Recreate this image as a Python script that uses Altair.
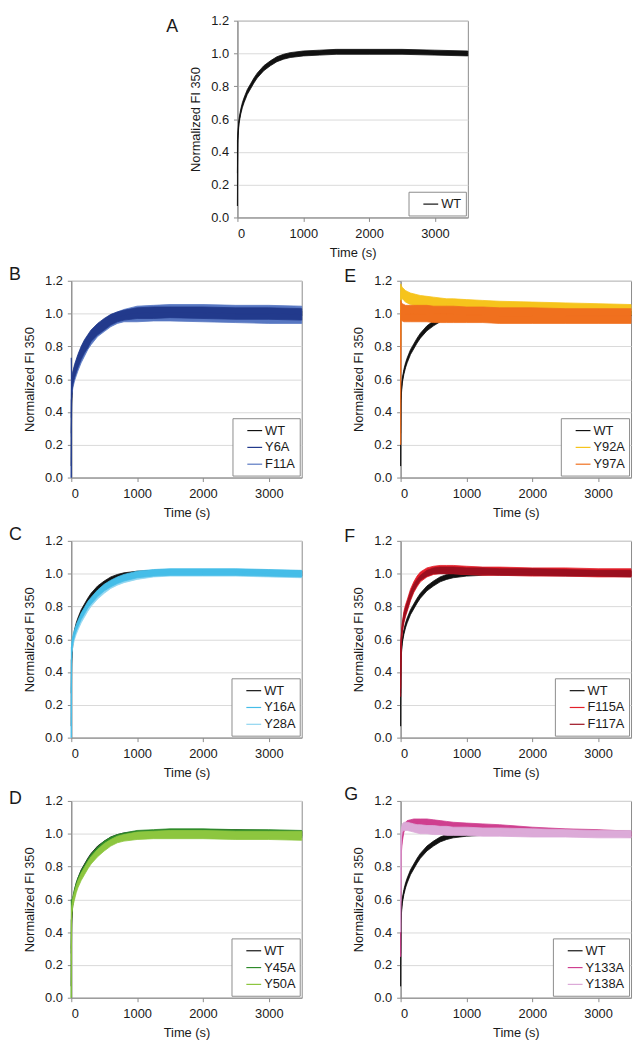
import altair as alt
import pandas as pd

FONT = "Liberation Sans"
TXT = "#1a1a1a"
FRAME = "#8c8c8c"

# time grid (s)
T = [0, 5, 10, 25, 50, 75, 100, 150, 200, 250, 300, 400, 500, 600, 700, 800,
     1000, 1250, 1500, 2000, 2500, 3000, 3500]

# WT (band low / high)
WT_lo = [0.07, 0.45, 0.50, 0.575, 0.63, 0.67, 0.70, 0.75, 0.785, 0.82, 0.85, 0.895, 0.925, 0.95, 0.965, 0.975,
         0.985, 0.99, 0.995, 0.995, 0.995, 0.99, 0.985]
WT_hi = [0.47, 0.49, 0.54, 0.605, 0.66, 0.70, 0.73, 0.78, 0.815, 0.85, 0.88, 0.925, 0.955, 0.98, 0.995, 1.005,
         1.015, 1.02, 1.025, 1.025, 1.025, 1.02, 1.015]

# B
Y6A_lo = [0.00, 0.50, 0.53, 0.57, 0.61, 0.64, 0.67, 0.72, 0.76, 0.79, 0.83, 0.87, 0.90, 0.93, 0.95, 0.96,
          0.97, 0.97, 0.975, 0.97, 0.965, 0.965, 0.96]
Y6A_hi = [0.73, 0.60, 0.62, 0.65, 0.69, 0.72, 0.75, 0.80, 0.84, 0.87, 0.90, 0.94, 0.97, 0.995, 1.01, 1.02,
          1.035, 1.04, 1.04, 1.04, 1.035, 1.035, 1.03]
F11A_lo = [0.00, 0.48, 0.51, 0.55, 0.59, 0.62, 0.65, 0.70, 0.74, 0.78, 0.81, 0.86, 0.89, 0.92, 0.94, 0.95,
           0.95, 0.955, 0.955, 0.95, 0.945, 0.94, 0.94]
F11A_hi = [0.50, 0.58, 0.61, 0.64, 0.68, 0.71, 0.74, 0.79, 0.83, 0.86, 0.89, 0.93, 0.965, 0.99, 1.01, 1.025,
           1.045, 1.05, 1.055, 1.055, 1.05, 1.05, 1.045]

# C
Y16A_lo = [0.00, 0.50, 0.54, 0.58, 0.62, 0.65, 0.675, 0.72, 0.755, 0.79, 0.815, 0.86, 0.895, 0.92, 0.94, 0.955,
           0.975, 0.985, 0.99, 0.99, 0.99, 0.985, 0.98]
Y16A_hi = [0.55, 0.56, 0.59, 0.625, 0.66, 0.69, 0.715, 0.76, 0.795, 0.83, 0.855, 0.90, 0.935, 0.96, 0.98, 0.995,
           1.015, 1.025, 1.03, 1.03, 1.03, 1.025, 1.02]
Y28A_lo = [0.00, 0.48, 0.52, 0.56, 0.60, 0.63, 0.655, 0.70, 0.735, 0.77, 0.80, 0.845, 0.88, 0.91, 0.93, 0.945,
           0.965, 0.98, 0.985, 0.985, 0.985, 0.98, 0.975]
Y28A_hi = [0.30, 0.55, 0.58, 0.61, 0.645, 0.675, 0.70, 0.745, 0.78, 0.815, 0.84, 0.885, 0.92, 0.945, 0.965, 0.98,
           1.005, 1.02, 1.025, 1.025, 1.025, 1.02, 1.015]

# D
Y45A_lo = [0.00, 0.50, 0.54, 0.58, 0.62, 0.66, 0.69, 0.735, 0.77, 0.805, 0.835, 0.88, 0.915, 0.94, 0.955, 0.965,
           0.98, 0.985, 0.985, 0.985, 0.98, 0.98, 0.975]
Y45A_hi = [0.60, 0.55, 0.58, 0.62, 0.665, 0.70, 0.73, 0.775, 0.81, 0.845, 0.875, 0.92, 0.955, 0.98, 0.995, 1.005,
           1.02, 1.025, 1.03, 1.03, 1.025, 1.025, 1.02]
Y50A_lo = [0.00, 0.48, 0.52, 0.56, 0.60, 0.64, 0.67, 0.715, 0.75, 0.785, 0.815, 0.86, 0.895, 0.925, 0.945, 0.955,
           0.965, 0.97, 0.97, 0.97, 0.965, 0.965, 0.96]
Y50A_hi = [0.45, 0.54, 0.57, 0.61, 0.65, 0.685, 0.715, 0.76, 0.795, 0.83, 0.86, 0.905, 0.94, 0.965, 0.985, 0.995,
           1.01, 1.015, 1.02, 1.02, 1.015, 1.015, 1.015]

# E
Y92A_lo = [0.80, 1.08, 1.09, 1.09, 1.08, 1.07, 1.065, 1.055, 1.05, 1.045, 1.04, 1.035, 1.03, 1.03, 1.025, 1.025,
           1.02, 1.015, 1.01, 1.005, 1.0, 0.995, 0.99]
Y92A_hi = [1.18, 1.18, 1.17, 1.16, 1.15, 1.14, 1.135, 1.125, 1.12, 1.115, 1.11, 1.105, 1.10, 1.095, 1.09, 1.09,
           1.085, 1.08, 1.075, 1.07, 1.065, 1.06, 1.055]
Y97A_lo = [0.20, 0.96, 0.96, 0.955, 0.95, 0.95, 0.95, 0.95, 0.95, 0.95, 0.95, 0.95, 0.945, 0.945, 0.945, 0.945,
           0.945, 0.945, 0.94, 0.94, 0.94, 0.94, 0.94]
Y97A_hi = [1.08, 1.08, 1.07, 1.06, 1.055, 1.05, 1.05, 1.05, 1.05, 1.05, 1.05, 1.05, 1.045, 1.045, 1.045, 1.045,
           1.04, 1.04, 1.035, 1.035, 1.03, 1.03, 1.03]

# F
F115A_lo = [0.30, 0.52, 0.57, 0.64, 0.70, 0.74, 0.77, 0.835, 0.885, 0.92, 0.95, 0.98, 0.995, 1.0, 1.0, 1.0,
            0.995, 0.99, 0.99, 0.985, 0.985, 0.98, 0.98]
F115A_hi = [0.55, 0.58, 0.63, 0.70, 0.77, 0.81, 0.84, 0.905, 0.95, 0.985, 1.01, 1.035, 1.045, 1.05, 1.05, 1.05,
            1.045, 1.04, 1.04, 1.035, 1.035, 1.03, 1.03]
F117A_lo = [0.25, 0.53, 0.58, 0.65, 0.71, 0.75, 0.78, 0.845, 0.895, 0.93, 0.96, 0.985, 1.0, 1.0, 1.0, 1.0,
            0.995, 0.995, 0.99, 0.99, 0.985, 0.985, 0.98]
F117A_hi = [0.50, 0.57, 0.62, 0.69, 0.755, 0.795, 0.825, 0.89, 0.935, 0.965, 0.99, 1.02, 1.035, 1.04, 1.04, 1.04,
            1.035, 1.035, 1.03, 1.03, 1.025, 1.02, 1.02]

# G
Y133A_lo = [0.25, 0.80, 0.88, 0.95, 1.01, 1.03, 1.04, 1.045, 1.05, 1.05, 1.05, 1.05, 1.045, 1.04, 1.035, 1.035,
            1.03, 1.025, 1.02, 1.005, 0.995, 0.99, 0.98]
Y133A_hi = [0.85, 0.88, 0.94, 1.00, 1.05, 1.07, 1.08, 1.085, 1.09, 1.09, 1.09, 1.09, 1.085, 1.08, 1.075, 1.07,
            1.065, 1.06, 1.055, 1.04, 1.03, 1.025, 1.015]
Y138A_lo = [0.40, 0.90, 0.97, 1.01, 1.02, 1.02, 1.02, 1.015, 1.01, 1.005, 1.0, 1.0, 0.995, 0.995, 0.99, 0.99,
            0.99, 0.985, 0.985, 0.98, 0.98, 0.975, 0.975]
Y138A_hi = [0.90, 0.97, 1.03, 1.06, 1.07, 1.07, 1.07, 1.065, 1.06, 1.055, 1.055, 1.05, 1.05, 1.045, 1.045, 1.04,
            1.04, 1.035, 1.035, 1.03, 1.025, 1.02, 1.02]

Y_TICKS = [0.0, 0.2, 0.4, 0.6, 0.8, 1.0, 1.2]
X_TICKS = [0, 1000, 2000, 3000]

W, H = 233, 199

xscale = alt.Scale(domain=[0, 3500], nice=False, zero=False)
yscale = alt.Scale(domain=[0, 1.2], nice=False)
xaxis = alt.Axis(values=X_TICKS, title="Time (s)", grid=False, format="d")
yaxis = alt.Axis(values=Y_TICKS, title="Normalized FI 350", format=".1f", grid=True)


def panel(letter, series, lx, ly, legend_order=None, pad_labels=False):
    names = legend_order or [s[0] for s in series]
    cmap = {s[0]: s[1] for s in series}
    sscale = alt.Scale(domain=names, range=[cmap[n] for n in names])
    leg_kw = dict(
        orient="bottom-right", title=None, symbolType="stroke", symbolSize=225,
        symbolStrokeWidth=1.2, labelFont=FONT, labelFontSize=13, labelColor=TXT,
        strokeColor=FRAME, fillColor="white", padding=4, rowPadding=1, offset=2,
        symbolOffset=10, labelOffset=2)
    if pad_labels:
        leg_kw["labelExpr"] = "datum.label + '\u00a0\u00a0\u00a0'"
    legend = alt.Legend(**leg_kw)
    layers = []
    for name, color, lo, hi in series:
        df = pd.DataFrame({"t": T, "lo": lo, "hi": hi, "series": name})
        df["mid"] = (df["lo"] + df["hi"]) / 2
        area = alt.Chart(df).mark_area(color=color, stroke=color, strokeWidth=0.8, opacity=1).encode(
            x=alt.X("t:Q", scale=xscale, axis=xaxis),
            y=alt.Y("lo:Q", scale=yscale, axis=yaxis),
            y2="hi:Q",
        )
        line = alt.Chart(df).mark_line(strokeWidth=1).encode(
            x=alt.X("t:Q", scale=xscale, axis=xaxis),
            y=alt.Y("mid:Q", scale=yscale, axis=yaxis),
            stroke=alt.Stroke("series:N", scale=sscale, legend=legend),
        )
        layers += [area, line]
    lab = alt.Chart(pd.DataFrame({"l": [letter]})).mark_text(
        align="left", baseline="middle", fontSize=18, font=FONT, color=TXT
    ).encode(text="l:N", x=alt.value(lx), y=alt.value(ly))
    layers.append(lab)
    return alt.layer(*layers).properties(width=W, height=H)


WT = ("WT", "#111111", WT_lo, WT_hi)

pA = panel("A", [WT], -72, 6, pad_labels=True)
pB = panel("B", [WT, ("F11A", "#5877c2", F11A_lo, F11A_hi), ("Y6A", "#223a8c", Y6A_lo, Y6A_hi)], -63, -6,
           legend_order=["WT", "Y6A", "F11A"])
pC = panel("C", [WT, ("Y28A", "#8fd5f0", Y28A_lo, Y28A_hi), ("Y16A", "#45bde8", Y16A_lo, Y16A_hi)], -63, -6,
           legend_order=["WT", "Y16A", "Y28A"])
pD = panel("D", [WT, ("Y45A", "#2e8a2a", Y45A_lo, Y45A_hi), ("Y50A", "#8dc63f", Y50A_lo, Y50A_hi)], -63, -2)
pE = panel("E", [WT, ("Y92A", "#f6c41c", Y92A_lo, Y92A_hi), ("Y97A", "#f0701e", Y97A_lo, Y97A_hi)], -57, -4)
pF = panel("F", [WT, ("F115A", "#e3202a", F115A_lo, F115A_hi), ("F117A", "#9b0f1f", F117A_lo, F117A_hi)], -57, -4)
pG = panel("G", [WT, ("Y133A", "#cf3f8f", Y133A_lo, Y133A_hi), ("Y138A", "#dcaad8", Y138A_lo, Y138A_hi)], -57, -6)

spacer = alt.Chart(pd.DataFrame({"v": [0]})).mark_point(opacity=0, size=1).encode(
    x=alt.value(0), y=alt.value(0)
).properties(width=95, height=1, view=alt.ViewBackground(stroke=None))


def indep(c):
    return c.resolve_scale(stroke="independent", x="independent", y="independent").resolve_legend(
        stroke="independent")


top = indep(alt.hconcat(spacer, pA, spacing=0))
r1 = indep(alt.hconcat(pB, pE, spacing=39))
r2 = indep(alt.hconcat(pC, pF, spacing=39))
r3 = indep(alt.hconcat(pD, pG, spacing=39))

chart = indep(alt.vconcat(top, r1, r2, r3, spacing=5)).properties(
    padding=0
).configure_view(
    stroke=FRAME, strokeWidth=1
).configure_axis(
    labelFont=FONT, labelFontSize=13, labelColor=TXT,
    titleFont=FONT, titleFontSize=13, titleColor=TXT, titleFontWeight="normal",
    domainColor=FRAME, tickColor=FRAME, tickSize=4, gridColor="#dadada", gridWidth=1,
).configure_axisX(
    labelPadding=6, titlePadding=6
).configure_axisY(
    labelPadding=5, titlePadding=8
)

chart.save("out.html", embed_options={"renderer": "svg", "actions": False})
